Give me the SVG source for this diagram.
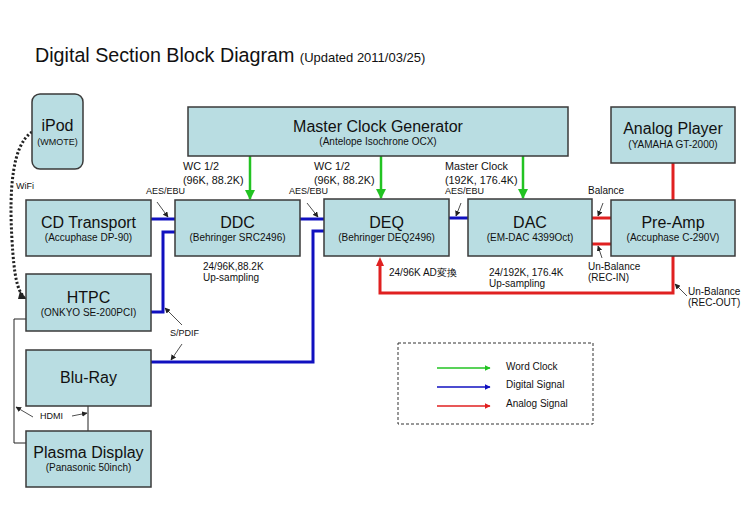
<svg xmlns="http://www.w3.org/2000/svg" width="750" height="519" viewBox="0 0 750 519">
<defs>
<marker id="ag" viewBox="0 0 10 10" refX="9" refY="5" markerWidth="4" markerHeight="4" orient="auto" markerUnits="strokeWidth"><path d="M0,0L10,5L0,10z" fill="#22c322"/></marker>
<marker id="ab" viewBox="0 0 10 10" refX="9" refY="5" markerWidth="4" markerHeight="4" orient="auto" markerUnits="strokeWidth"><path d="M0,0L10,5L0,10z" fill="#1010c0"/></marker>
<marker id="ar" viewBox="0 0 10 10" refX="9" refY="5" markerWidth="4" markerHeight="4" orient="auto" markerUnits="strokeWidth"><path d="M0,0L10,5L0,10z" fill="#e02020"/></marker>
<marker id="ak" viewBox="0 0 10 10" refX="9" refY="5" markerWidth="7" markerHeight="7" orient="auto" markerUnits="strokeWidth"><path d="M0,0L10,5L0,10z" fill="#222"/></marker>
</defs>
<style>
text{font-family:"Liberation Sans",Arial,sans-serif;fill:#111}
.box{fill:#b9dde2;stroke:#3a3a3a;stroke-width:1.5}
.t{font-size:16px;text-anchor:middle}
.s{font-size:10px;text-anchor:middle}
.l{font-size:10px}
.w{font-size:10.8px}
.sm{font-size:9px}
.g{stroke:#22c322;stroke-width:2.5;fill:none}
.b{stroke:#1010c0;stroke-width:3;fill:none}
.r{stroke:#e02020;stroke-width:3;fill:none}
.k{stroke:#222;stroke-width:1;fill:none}
.pt{stroke:#222;stroke-width:0.8;fill:none}
</style>
<rect width="750" height="519" fill="#fff"/>
<text x="35" y="62" style="font-size:19.7px">Digital Section Block Diagram <tspan style="font-size:13px">(Updated 2011/03/25)</tspan></text>

<g id="connectors">
<line class="g" x1="250" y1="156" x2="250" y2="199" marker-end="url(#ag)"/>
<line class="g" x1="381" y1="156" x2="381" y2="198" marker-end="url(#ag)"/>
<line class="g" x1="523" y1="156" x2="523" y2="198" marker-end="url(#ag)"/>
<line class="b" x1="151" y1="219" x2="175" y2="219"/>
<line class="b" x1="300" y1="219" x2="324" y2="219"/>
<line class="b" x1="449" y1="218" x2="468" y2="218"/>
<polyline class="b" points="151,312 163,312 163,232 175,232"/>
<polyline class="b" points="151,362 313,362 313,231 324,231"/>
<line class="r" x1="592" y1="218" x2="611" y2="218"/>
<line class="r" x1="592" y1="244" x2="611" y2="244"/>
<line class="r" x1="673" y1="163" x2="673" y2="200"/>
<polyline class="r" points="673,256 673,293 380,293 380,266"/>
<path d="M376,266 L380,257 L384,266z" fill="#e02020"/>
<path d="M32,132 C12,145 9,190 12,240 C14,275 17,290 24,297" stroke="#222" stroke-width="3" stroke-dasharray="2.2 2" fill="none"/>
<path d="M20,291 L27,299 L18,299z" fill="#222"/>
<polyline class="k" points="26,319 14,319 14,443 26,443"/>
<line class="k" x1="88" y1="406" x2="88" y2="431"/>
<line class="pt" x1="157" y1="202" x2="168" y2="217" marker-end="url(#ak)"/>
<line class="pt" x1="307" y1="203" x2="318" y2="217" marker-end="url(#ak)"/>
<line class="pt" x1="461" y1="203" x2="456" y2="216" marker-end="url(#ak)"/>
<line class="pt" x1="603" y1="203" x2="598" y2="216" marker-end="url(#ak)"/>
<line class="pt" x1="602" y1="258" x2="598" y2="246" marker-end="url(#ak)"/>
<line class="pt" x1="687" y1="296" x2="675" y2="284" marker-end="url(#ak)"/>
<line class="pt" x1="182" y1="325" x2="165" y2="308" marker-end="url(#ak)"/>
<line class="pt" x1="182" y1="344" x2="171" y2="360" marker-end="url(#ak)"/>
<line class="pt" x1="33" y1="417" x2="16" y2="407" marker-end="url(#ak)"/>
<line class="pt" x1="72" y1="416" x2="87" y2="413" marker-end="url(#ak)"/>
</g>

<g id="ipod"><rect class="box" x="32" y="94" width="51" height="75" rx="8"/><text class="t" x="57.5" y="131">iPod</text><text class="s" x="57.5" y="145" style="font-size:9px">(WMOTE)</text></g>
<g id="mcg"><rect class="box" x="188" y="107" width="380" height="49"/><text class="t" x="378" y="132">Master Clock Generator</text><text class="s" x="378" y="145">(Antelope Isochrone OCX)</text></g>
<g id="cd"><rect class="box" x="26" y="200" width="125" height="56"/><text class="t" x="88.5" y="228">CD Transport</text><text class="s" x="88.5" y="241">(Accuphase DP-90)</text></g>
<g id="ddc"><rect class="box" x="175" y="200" width="125" height="56"/><text class="t" x="237.5" y="228">DDC</text><text class="s" x="237.5" y="241">(Behringer SRC2496)</text></g>
<g id="deq"><rect class="box" x="324" y="199" width="125" height="57"/><text class="t" x="386.5" y="228">DEQ</text><text class="s" x="386.5" y="241">(Behringer DEQ2496)</text></g>
<g id="dac"><rect class="box" x="468" y="199" width="124" height="57"/><text class="t" x="530" y="228">DAC</text><text class="s" x="530" y="241">(EM-DAC 4399Oct)</text></g>
<g id="analog"><rect class="box" x="611" y="107" width="124" height="56"/><text class="t" x="673" y="134">Analog Player</text><text class="s" x="673" y="148">(YAMAHA GT-2000)</text></g>
<g id="preamp"><rect class="box" x="611" y="200" width="124" height="56"/><text class="t" x="673" y="228">Pre-Amp</text><text class="s" x="673" y="241">(Accuphase C-290V)</text></g>
<g id="htpc"><rect class="box" x="26" y="274" width="125" height="57"/><text class="t" x="88.5" y="303">HTPC</text><text class="s" x="88.5" y="316">(ONKYO SE-200PCI)</text></g>
<g id="bluray"><rect class="box" x="26" y="350" width="125" height="56"/><text class="t" x="88.5" y="383">Blu-Ray</text></g>
<g id="plasma"><rect class="box" x="26" y="431" width="125" height="56"/><text class="t" x="88.5" y="458">Plasma Display</text><text class="s" x="88.5" y="471">(Panasonic 50inch)</text></g>

<g id="labels">
<text class="w" x="183" y="170">WC 1/2</text><text class="w" x="183" y="184">(96K, 88.2K)</text>
<text class="w" x="314" y="170">WC 1/2</text><text class="w" x="314" y="184">(96K, 88.2K)</text>
<text class="w" x="445" y="170">Master Clock</text><text class="w" x="445" y="184">(192K, 176.4K)</text>
<text class="sm" x="146" y="194">AES/EBU</text>
<text class="sm" x="289" y="194">AES/EBU</text>
<text class="sm" x="445" y="194">AES/EBU</text>
<text class="l" x="588" y="194">Balance</text>
<text class="l" x="203" y="270">24/96K,88.2K</text><text class="l" x="203" y="281">Up-sampling</text>
<text class="l" x="389" y="276">24/96K AD変換</text>
<text class="l" x="489" y="276">24/192K, 176.4K</text><text class="l" x="489" y="287">Up-sampling</text>
<text class="l" x="588" y="270">Un-Balance</text><text class="l" x="588" y="281">(REC-IN)</text>
<text class="l" x="688" y="295">Un-Balance</text><text class="l" x="688" y="306">(REC-OUT)</text>
<text class="sm" x="16" y="189">WiFi</text>
<text class="sm" x="170" y="336">S/PDIF</text>
<text class="sm" x="40" y="419">HDMI</text>
</g>

<g id="legend">
<rect x="398" y="343" width="195" height="81" fill="none" stroke="#333" stroke-width="1" stroke-dasharray="3 2"/>
<line x1="437" y1="368" x2="490" y2="368" stroke="#22c322" stroke-width="1.5" marker-end="url(#ag)"/>
<line x1="437" y1="387" x2="490" y2="387" stroke="#1010c0" stroke-width="1.5" marker-end="url(#ab)"/>
<line x1="437" y1="406" x2="490" y2="406" stroke="#e02020" stroke-width="1.5" marker-end="url(#ar)"/>
<text class="l" x="506" y="370">Word Clock</text>
<text class="l" x="506" y="388">Digital Signal</text>
<text class="l" x="506" y="407">Analog Signal</text>
</g>
</svg>
